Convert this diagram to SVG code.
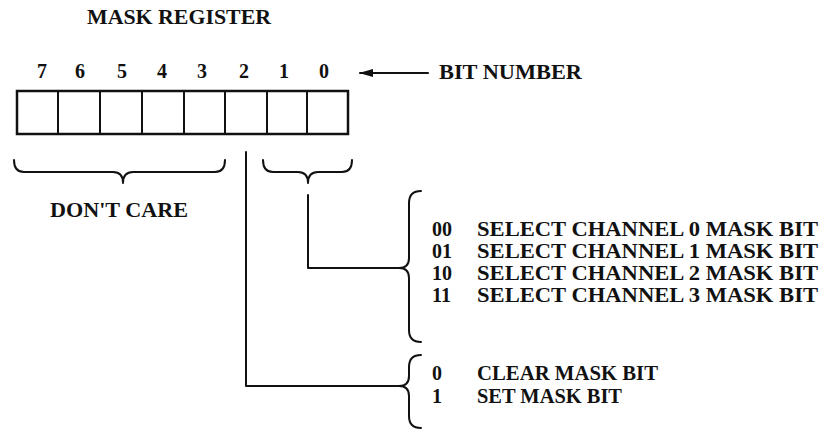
<svg xmlns="http://www.w3.org/2000/svg" width="825" height="430" viewBox="0 0 825 430">
<style>
text{font-family:"Liberation Serif","Times New Roman",serif;font-weight:bold;fill:#111;}
.t{font-size:21px;}
.d{font-size:20px;text-anchor:middle;}
.s{font-size:20px;}
.ln{fill:none;stroke:#111;stroke-width:2;stroke-linejoin:round;stroke-linecap:round;}
.box{fill:#fff;stroke:#111;stroke-width:2.5;}
</style>
<defs>
<marker id="ah" markerWidth="14" markerHeight="10" refX="13" refY="5" orient="auto" markerUnits="userSpaceOnUse">
<path d="M0,1 L14,5 L0,9 Z" fill="#111"/>
</marker>
</defs>
<rect width="825" height="430" fill="#fff"/>
<g id="title"><text class="t" x="87" y="24" textLength="184" lengthAdjust="spacingAndGlyphs">MASK REGISTER</text></g>
<g id="bit-numbers">
<text class="d" x="42" y="78">7</text>
<text class="d" x="80" y="78">6</text>
<text class="d" x="122" y="78">5</text>
<text class="d" x="162" y="78">4</text>
<text class="d" x="202" y="78">3</text>
<text class="d" x="244" y="78">2</text>
<text class="d" x="284" y="78">1</text>
<text class="d" x="324" y="78">0</text>
</g>
<g id="bit-number-label"><text class="s" x="439" y="79" textLength="143" lengthAdjust="spacingAndGlyphs">BIT NUMBER</text></g>
<g id="register">
<rect class="box" x="17" y="91" width="331" height="43"/>
<path class="ln" d="M58,91 V134 M100,91 V134 M142,91 V134 M184,91 V134 M225,91 V134 M267,91 V134 M307,91 V134"/>
</g>
<g id="dont-care">
<path class="ln" d="M14,160 Q14,172 24,172 L113,172 Q123,172 123,183 Q123,172 133,172 L215,172 Q225,172 225,160"/>
<text class="t" x="50" y="217" textLength="138" lengthAdjust="spacingAndGlyphs">DON'T CARE</text>
</g>
<g id="bits-1-0-brace">
<path class="ln" d="M263,160 Q263,172 273,172 L298,172 Q308,172 308,183 Q308,172 318,172 L342,172 Q352,172 352,160"/>
</g>
<g id="channel-select">
<path class="ln" d="M421,191 Q409,191 409,203 L409,258 Q409,268 399,268 Q409,268 409,278 L409,330 Q409,342 421,342"/>
<text class="s" x="432" y="236">00</text>
<text class="s" x="432" y="258">01</text>
<text class="s" x="432" y="280">10</text>
<text class="s" x="432" y="302">11</text>
<text class="s" x="477" y="236" textLength="341" lengthAdjust="spacingAndGlyphs">SELECT CHANNEL 0 MASK BIT</text>
<text class="s" x="477" y="258" textLength="341" lengthAdjust="spacingAndGlyphs">SELECT CHANNEL 1 MASK BIT</text>
<text class="s" x="477" y="280" textLength="341" lengthAdjust="spacingAndGlyphs">SELECT CHANNEL 2 MASK BIT</text>
<text class="s" x="477" y="302" textLength="341" lengthAdjust="spacingAndGlyphs">SELECT CHANNEL 3 MASK BIT</text>
</g>
<g id="mask-bit">
<path class="ln" d="M421,355 Q409,355 409,367 L409,376 Q409,386 399,386 Q409,386 409,396 L409,416 Q409,428 421,428"/>
<text class="s" x="432" y="380">0</text>
<text class="s" x="432" y="403">1</text>
<text class="s" x="477" y="380" textLength="181" lengthAdjust="spacingAndGlyphs">CLEAR MASK BIT</text>
<text class="s" x="477" y="403" textLength="145" lengthAdjust="spacingAndGlyphs">SET MASK BIT</text>
</g>
<g id="connectors">
<path class="ln" d="M428,73 L360,73" marker-end="url(#ah)"/>
<path class="ln" d="M246,152 L246,386 L399,386"/>
<path class="ln" d="M308,195 L308,268 L399,268"/>
</g>
</svg>
